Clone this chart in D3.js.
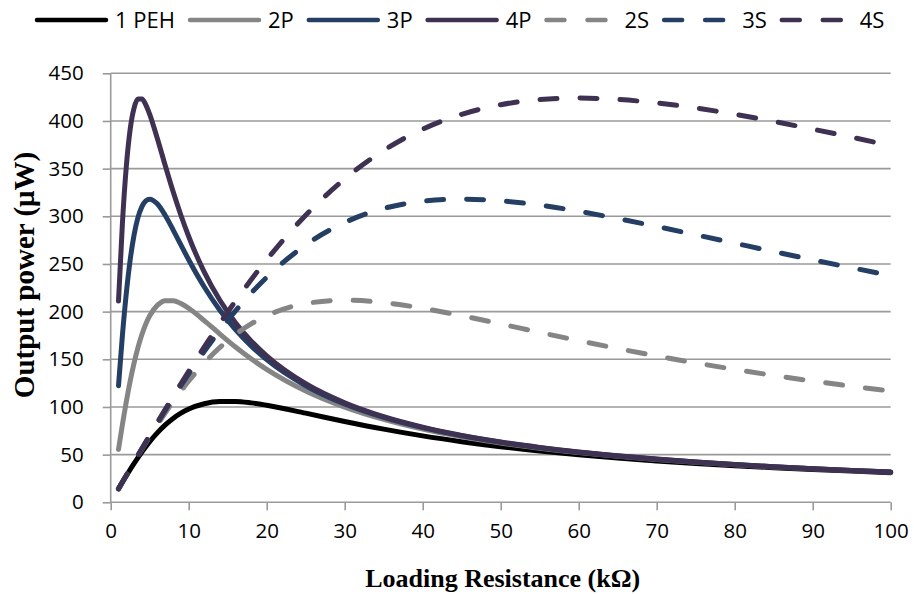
<!DOCTYPE html>
<html>
<head>
<meta charset="utf-8">
<script src="https://cdn.jsdelivr.net/npm/d3@7"></script>
<style>
  html, body { margin: 0; padding: 0; background: #fff; }
  svg { display: block; }
</style>
</head>
<body>
<svg id="chart" width="914" height="594"></svg>
<script>
// Load resistance (kΩ) at which each curve is sampled
const resistance = [1, 1.5, 2, 2.5, 3, 3.5, 4, 4.5, 5, 6, 7, 8, 9, 10, 12, 14, 16, 18, 20,
  25, 30, 35, 40, 45, 50, 55, 60, 65, 70, 75, 80, 85, 90, 95, 100];

// Output power (µW) for each harvester arrangement
const peh1 = [14.1, 21.0, 27.8, 34.4, 40.8, 46.9, 52.8, 58.3, 63.6, 73.1, 81.2, 88.0, 93.5, 97.8,
  103.4, 105.7, 105.8, 104.3, 101.8, 93.5, 84.8, 76.8, 69.7, 63.6, 58.3, 53.8, 49.9, 46.4, 43.4,
  40.8, 38.4, 36.3, 34.4, 32.7, 31.1];
const p2 = [55.5, 81.5, 105.6, 127.2, 146.2, 162.5, 176.1, 187.1, 195.7, 206.8, 211.5, 211.5, 208.5,
  203.5, 190.6, 176.5, 162.9, 150.5, 139.4, 116.7, 99.8, 86.9, 76.8, 68.8, 62.2, 56.8, 52.2, 48.3,
  44.9, 42.0, 39.4, 37.1, 35.1, 33.3, 31.6];
const p3 = [122.3, 175.0, 219.3, 254.4, 280.6, 298.8, 310.2, 316.2, 318.0, 312.8, 300.8, 285.8, 270.0,
  254.4, 225.8, 201.4, 181.1, 164.0, 149.6, 122.3, 103.1, 89.0, 78.3, 69.8, 63.0, 57.3, 52.6, 48.6,
  45.2, 42.2, 39.6, 37.3, 35.2, 33.4, 31.7];
const p4 = [211.1, 292.4, 352.1, 391.4, 413.7, 423.0, 423.1, 417.0, 407.0, 381.1, 353.0, 325.9, 301.1,
  278.8, 241.4, 211.9, 188.4, 169.3, 153.6, 124.4, 104.4, 89.8, 78.8, 70.2, 63.2, 57.6, 52.8, 48.8,
  45.3, 42.3, 39.7, 37.3, 35.3, 33.4, 31.8];
const s2 = [14.1, 21.1, 28.1, 35.1, 42.0, 48.8, 55.5, 62.2, 68.8, 81.5, 93.8, 105.6, 116.7, 127.2,
  146.2, 162.5, 176.1, 187.1, 195.7, 208.5, 212.0, 209.5, 203.5, 195.7, 187.1, 178.2, 169.6, 161.3,
  153.5, 146.2, 139.4, 133.1, 127.2, 121.7, 116.7];
const s3 = [14.1, 21.2, 28.2, 35.2, 42.2, 49.2, 56.1, 63.0, 69.8, 83.3, 96.6, 109.6, 122.3, 134.7,
  158.3, 180.4, 200.7, 219.3, 236.0, 270.0, 293.5, 308.2, 315.8, 318.0, 316.2, 311.7, 305.3, 297.6,
  289.3, 280.6, 271.8, 263.0, 254.4, 246.0, 238.0];
const s4 = [14.1, 21.2, 28.2, 35.3, 42.3, 49.3, 56.3, 63.2, 70.2, 84.0, 97.6, 111.1, 124.4, 137.5,
  163.1, 187.6, 211.1, 233.4, 254.4, 301.1, 339.2, 369.1, 391.4, 407.0, 417.0, 422.4, 424.0, 422.6,
  419.0, 413.7, 407.0, 399.5, 391.4, 382.9, 374.1];

// Series names, in legend (and drawing) order
const seriesNames = ["1 PEH", "2P", "3P", "4P", "2S", "3S", "4S"];
const seriesValues = [peh1, p2, p3, p4, s2, s3, s4];

// Axis ticks
const xTicks = [0, 10, 20, 30, 40, 50, 60, 70, 80, 90, 100];
const yTicks = [0, 50, 100, 150, 200, 250, 300, 350, 400, 450];

// Appearance
const colors = ["#000000", "#858585", "#243f63", "#3f3152", "#858585", "#243f63", "#3f3152"];
const dashed = [false, false, false, false, true, true, true];
const tickFont = "'Open Sans', 'Liberation Sans', sans-serif";
const titleFont = "'Liberation Serif', 'DejaVu Serif', serif";
const gridColor = "#9a9a9a";

const svg = d3.select("#chart");
const plot = { left: 110.7, right: 890.7, top: 73.3, bottom: 502.3 };

const x = d3.scaleLinear().domain([0, 100]).range([plot.left, plot.right]);
const y = d3.scaleLinear().domain([0, 450]).range([plot.bottom, plot.top]);

// Horizontal gridlines
svg.append("g")
  .selectAll("line")
  .data(yTicks.filter(v => v > 0))
  .join("line")
  .attr("x1", plot.left).attr("x2", plot.right)
  .attr("y1", d => y(d)).attr("y2", d => y(d))
  .attr("stroke", gridColor).attr("stroke-width", 1.6);

// Y axis
const yAxis = svg.append("g")
  .attr("transform", `translate(${plot.left},0)`)
  .call(d3.axisLeft(y).tickValues(yTicks).tickSize(8).tickPadding(19).tickSizeOuter(0));
// X axis
const xAxis = svg.append("g")
  .attr("transform", `translate(0,${plot.bottom})`)
  .call(d3.axisBottom(x).tickValues(xTicks).tickSize(8).tickPadding(13).tickSizeOuter(0));

[xAxis, yAxis].forEach(ax => {
  ax.select(".domain").attr("stroke", gridColor).attr("stroke-width", 1.6);
  ax.selectAll(".tick line").attr("stroke", gridColor).attr("stroke-width", 1.6);
  ax.selectAll(".tick text")
    .attr("fill", "#000")
    .style("font-family", tickFont)
    .style("font-size", "20.5px");
});
yAxis.select(".domain").attr("d", `M0,${plot.bottom}V${plot.top}`);
xAxis.select(".domain").attr("d", `M${plot.left},0H${plot.right}`);

// Curves
const line = d3.line()
  .x((d, i) => x(resistance[i]))
  .y(d => y(d))
  .curve(d3.curveMonotoneX);

const lineWidth = 5;
const dashPattern = "17,23";

svg.append("g")
  .selectAll("path")
  .data(seriesValues)
  .join("path")
  .attr("d", d => line(d))
  .attr("fill", "none")
  .attr("stroke", (d, i) => colors[i])
  .attr("stroke-width", lineWidth)
  .attr("stroke-linecap", "round")
  .attr("stroke-linejoin", "round")
  .attr("stroke-dasharray", (d, i) => dashed[i] ? dashPattern : null);

// Legend along the top edge
const legend = svg.append("g");
let lx = 37;
const ly = 20;
seriesNames.forEach((name, i) => {
  const item = legend.append("g");
  item.append("line")
    .attr("x1", lx).attr("x2", lx + 69)
    .attr("y1", ly).attr("y2", ly)
    .attr("stroke", colors[i])
    .attr("stroke-width", 4.5)
    .attr("stroke-linecap", "round")
    .attr("stroke-dasharray", dashed[i] ? "18,23" : null);
  const t = item.append("text")
    .attr("x", lx + 78)
    .attr("y", ly + 8)
    .style("font-family", tickFont)
    .style("font-size", "22px")
    .attr("fill", "#000")
    .text(name);
  lx += 78 + t.node().getComputedTextLength() + 15;
});

// Axis titles
svg.append("text")
  .attr("x", (plot.left + plot.right) / 2 + 2)
  .attr("y", 587)
  .attr("text-anchor", "middle")
  .style("font-family", titleFont)
  .style("font-weight", "bold")
  .style("font-size", "26px")
  .text("Loading Resistance (kΩ)");

svg.append("text")
  .attr("transform", "translate(34,275) rotate(-90)")
  .attr("text-anchor", "middle")
  .style("font-family", titleFont)
  .style("font-weight", "bold")
  .style("font-size", "29px")
  .text("Output power (μW)");
</script>
</body>
</html>
